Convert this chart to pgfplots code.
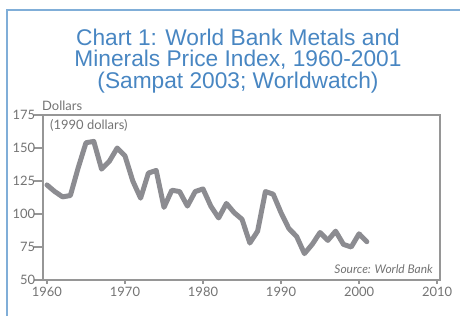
\documentclass[border=0pt]{standalone}
\usepackage{pgfplots}
\pgfplotsset{compat=1.18}
\usepackage{fontspec}
\setmainfont{Lato}
\newfontfamily\titlefont{Liberation Sans}
\definecolor{titleblue}{RGB}{72,134,194}
\definecolor{frameblue}{RGB}{128,174,216}
\definecolor{textgray}{RGB}{115,115,115}
\definecolor{axisgray}{RGB}{150,150,150}
\definecolor{linegray}{RGB}{140,140,145}
\begin{document}
\begin{tikzpicture}[x=1bp,y=1bp]
\path[use as bounding box] (0,0) rectangle (460,316);
\draw[frameblue, line width=2bp] (7,0) -- (7,306) -- (461,306);
\node[anchor=base, font=\titlefont\fontsize{22.8}{22}\selectfont, text=titleblue, inner sep=0] at (238,271) {Chart 1: World Bank Metals and};
\node[anchor=base, font=\titlefont\fontsize{22.8}{22}\selectfont, text=titleblue, inner sep=0] at (238,249.5) {Minerals Price Index, 1960-2001};
\node[anchor=base, font=\titlefont\fontsize{22.8}{22}\selectfont, text=titleblue, inner sep=0] at (238,228) {(Sampat 2003; Worldwatch)};
\begin{axis}[
  at={(43bp,36bp)}, anchor=south west,
  scale only axis, width=397bp, height=165bp,
  xmin=1959.49, xmax=2010.38, ymin=50, ymax=175,
  xtick={1960,1970,...,2010}, ytick={50,75,...,175},
  xtick pos=left, ytick pos=left,
  tick align=outside,
  xtick style={/pgfplots/major tick length=4bp},
  ytick style={/pgfplots/major tick length=9bp},
  axis line style={draw=axisgray, line width=1.5bp},
  tick style={draw=axisgray, line width=1.2bp},
  xticklabel style={font=\fontsize{13}{13}\selectfont, text=textgray, yshift=1bp},
  yticklabel style={font=\fontsize{13}{13}\selectfont, text=textgray},
  /pgf/number format/.cd, 1000 sep={}, assume math mode=true,
]
\addplot[linegray, line width=5bp, line join=round, line cap=round] coordinates {
(1960,122) (1961,117) (1962,113) (1963,114) (1964,135) (1965,154) (1966,155)
(1967,134) (1968,140) (1969,150) (1970,144) (1971,125) (1972,112) (1973,131)
(1974,133) (1975,105) (1976,118) (1977,117) (1978,106) (1979,117) (1980,119)
(1981,106) (1982,97) (1983,108) (1984,101) (1985,96) (1986,78) (1987,87)
(1988,117) (1989,115) (1990,101) (1991,89) (1992,83) (1993,70) (1994,77)
(1995,86) (1996,80) (1997,87) (1998,77) (1999,75) (2000,85) (2001,79)
};
\end{axis}
\node[anchor=base west, inner sep=0, font=\fontsize{13}{13}\selectfont, text=textgray] at (42,205.5) {Dollars};
\node[anchor=base west, inner sep=0, font=\fontsize{13}{13}\selectfont, text=textgray] at (50,186.5) {(1990 dollars)};
\node[anchor=base east, inner sep=0, font=\itshape\fontsize{12}{12}\selectfont, text=textgray] at (433,42.5) {Source: World Bank};
\end{tikzpicture}
\end{document}
